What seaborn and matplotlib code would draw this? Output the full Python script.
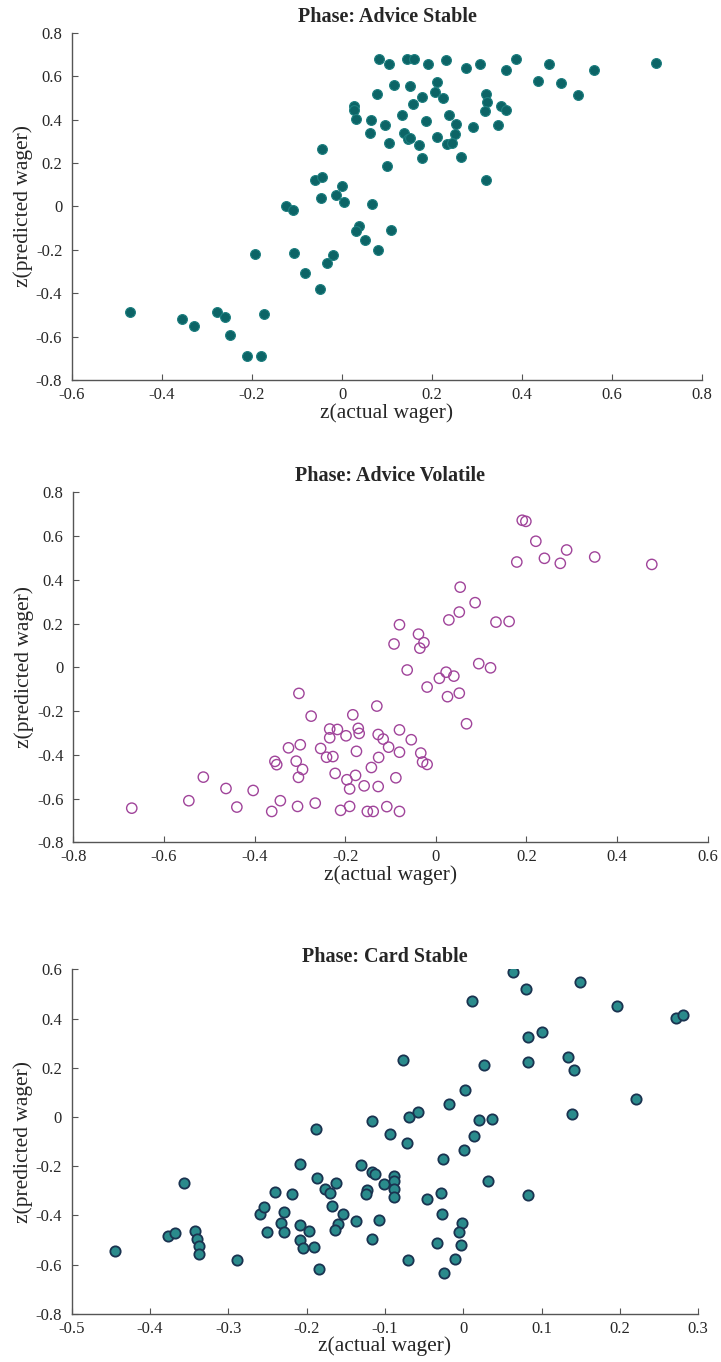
import numpy as np
import pandas as pd
import matplotlib
matplotlib.use("Agg")
import matplotlib.pyplot as plt
import seaborn as sns

# ---- Phase: Advice Stable ----
adv_stable_x = [-0.471, -0.356, -0.329, -0.278, -0.259, -0.250, -0.212, -0.179, -0.193, -0.173,
                -0.124, -0.109, -0.106, -0.083, -0.061, -0.044, -0.044, -0.047, -0.049, -0.033,
                -0.019, -0.013, -0.001, 0.004, 0.027, 0.026, 0.032, 0.038, 0.031, 0.050,
                0.062, 0.064, 0.067, 0.077, 0.082, 0.081, 0.105, 0.144, 0.159, 0.190,
                0.232, 0.275, 0.307, 0.365, 0.386, 0.460, 0.559, 0.698, 0.436, 0.487,
                0.525, 0.116, 0.151, 0.210, 0.206, 0.224, 0.178, 0.157, 0.319, 0.322,
                0.317, 0.353, 0.364, 0.095, 0.133, 0.187, 0.238, 0.253, 0.291, 0.347,
                0.138, 0.146, 0.152, 0.210, 0.252, 0.233, 0.244, 0.105, 0.171, 0.178,
                0.264, 0.101, 0.320, 0.108]
adv_stable_y = [-0.487, -0.517, -0.552, -0.489, -0.511, -0.591, -0.688, -0.689, -0.219, -0.496,
                0.001, -0.018, -0.213, -0.305, 0.120, 0.137, 0.264, 0.040, -0.379, -0.261,
                -0.223, 0.052, 0.094, 0.021, 0.460, 0.446, 0.402, -0.091, -0.112, -0.155,
                0.339, 0.399, 0.012, 0.517, 0.677, -0.200, 0.654, 0.677, 0.677, 0.654,
                0.674, 0.637, 0.654, 0.628, 0.677, 0.655, 0.629, 0.661, 0.577, 0.568,
                0.514, 0.559, 0.556, 0.571, 0.528, 0.497, 0.505, 0.470, 0.519, 0.480,
                0.440, 0.460, 0.445, 0.374, 0.423, 0.394, 0.423, 0.380, 0.364, 0.376,
                0.338, 0.310, 0.316, 0.321, 0.331, 0.288, 0.290, 0.290, 0.282, 0.222,
                0.229, 0.184, 0.123, -0.109]

# ---- Phase: Advice Volatile ----
adv_volatile_x = [-0.671, -0.545, -0.513, -0.463, -0.439, -0.403, -0.362, -0.343, -0.355, -0.351,
                  -0.325, -0.308, -0.302, -0.299, -0.294, -0.303, -0.305, -0.275, -0.266, -0.254,
                  -0.241, -0.227, -0.234, -0.234, -0.217, -0.222, -0.210, -0.198, -0.196, -0.190,
                  -0.190, -0.183, -0.177, -0.175, -0.171, -0.169, -0.158, -0.151, -0.138, -0.142,
                  -0.130, -0.127, -0.116, -0.126, -0.127, -0.108, -0.104, -0.088, -0.080, -0.080,
                  -0.080, -0.092, -0.080, -0.063, -0.054, -0.038, -0.035, -0.026, -0.033, -0.029,
                  -0.019, -0.019, 0.008, 0.023, 0.026, 0.029, 0.040, 0.052, 0.052, 0.054,
                  0.068, 0.087, 0.095, 0.121, 0.133, 0.162, 0.191, 0.199, 0.221, 0.289,
                  0.240, 0.275, 0.179, 0.351, 0.477]
adv_volatile_y = [-0.644, -0.610, -0.502, -0.554, -0.639, -0.563, -0.659, -0.610, -0.430, -0.445,
                  -0.368, -0.429, -0.119, -0.354, -0.467, -0.503, -0.636, -0.223, -0.621, -0.371,
                  -0.411, -0.408, -0.282, -0.322, -0.284, -0.485, -0.654, -0.313, -0.514, -0.556,
                  -0.636, -0.217, -0.494, -0.384, -0.279, -0.302, -0.542, -0.659, -0.659, -0.458,
                  -0.177, -0.307, -0.328, -0.412, -0.545, -0.637, -0.365, -0.505, -0.286, -0.388,
                  -0.659, 0.107, 0.195, -0.012, -0.331, 0.152, 0.088, 0.113, -0.392, -0.433,
                  -0.444, -0.090, -0.050, -0.022, -0.134, 0.217, -0.040, -0.118, 0.253, 0.367,
                  -0.258, 0.296, 0.017, -0.002, 0.207, 0.210, 0.673, 0.668, 0.577, 0.537,
                  0.499, 0.476, 0.482, 0.505, 0.471]

# ---- Phase: Card Stable ----
card_stable_x = [-0.445, -0.377, -0.368, -0.356, -0.342, -0.340, -0.337, -0.338, -0.289, -0.259,
                 -0.255, -0.251, -0.240, -0.229, -0.233, -0.229, -0.219, -0.208, -0.209, -0.209,
                 -0.204, -0.197, -0.188, -0.187, -0.190, -0.184, -0.176, -0.170, -0.162, -0.167,
                 -0.160, -0.164, -0.153, -0.137, -0.130, 0.064, 0.149, 0.080, 0.011, 0.196,
                 0.100, 0.083, -0.077, 0.027, 0.083, 0.134, 0.142, 0.002, 0.220, -0.018,
                 -0.117, -0.069, -0.058, 0.020, 0.037, 0.139, -0.094, -0.072, 0.014, 0.001,
                 -0.026, -0.117, -0.113, -0.101, -0.089, -0.089, -0.089, -0.089, -0.123, -0.124,
                 0.032, 0.083, -0.029, -0.046, -0.108, -0.116, -0.027, -0.001, -0.006, -0.003,
                 -0.033, -0.010, -0.025, -0.070, 0.272, 0.280]
card_stable_y = [-0.543, -0.485, -0.470, -0.268, -0.462, -0.495, -0.523, -0.557, -0.583, -0.393,
                 -0.365, -0.466, -0.306, -0.388, -0.430, -0.469, -0.314, -0.191, -0.440, -0.501,
                 -0.531, -0.462, -0.047, -0.248, -0.528, -0.617, -0.291, -0.308, -0.268, -0.360,
                 -0.434, -0.458, -0.394, -0.423, -0.196, 0.588, 0.548, 0.520, 0.470, 0.453,
                 0.344, 0.325, 0.230, 0.211, 0.222, 0.245, 0.191, 0.110, 0.072, 0.053,
                 -0.018, 0.001, 0.019, -0.011, -0.008, 0.013, -0.070, -0.104, -0.079, -0.136,
                 -0.171, -0.225, -0.233, -0.272, -0.240, -0.261, -0.294, -0.324, -0.297, -0.313,
                 -0.259, -0.318, -0.310, -0.332, -0.420, -0.495, -0.394, -0.430, -0.469, -0.520,
                 -0.514, -0.576, -0.634, -0.583, 0.402, 0.415]

sns.set_style("ticks")
plt.rcParams["font.family"] = ["Liberation Serif", "DejaVu Serif"]

fig = plt.figure(figsize=(7.21, 13.62), dpi=100)

panels = [
    dict(title="Phase: Advice Stable", x=adv_stable_x, y=adv_stable_y,
         rect=[0.0999, 0.7210, 0.8738, 0.2550],
         xlim=(-0.6, 0.8), xticks=np.arange(-0.6, 0.81, 0.2),
         ylim=(-0.8, 0.8), yticks=np.arange(-0.8, 0.81, 0.2),
         face="#0c6466", edge="#1e7f80", lw=0.8, s=50, tpad=8),
    dict(title="Phase: Advice Volatile", x=adv_volatile_x, y=adv_volatile_y,
         rect=[0.1017, 0.3816, 0.8796, 0.2568],
         xlim=(-0.8, 0.6), xticks=np.arange(-0.8, 0.61, 0.2),
         ylim=(-0.8, 0.8), yticks=np.arange(-0.8, 0.81, 0.2),
         face="none", edge="#a0449a", lw=1.0, s=55, tpad=8),
    dict(title="Phase: Card Stable", x=card_stable_x, y=card_stable_y,
         rect=[0.0994, 0.0354, 0.8690, 0.2529],
         xlim=(-0.5, 0.3), xticks=np.arange(-0.5, 0.31, 0.1),
         ylim=(-0.8, 0.6), yticks=np.arange(-0.8, 0.61, 0.2),
         face="#2a8b8c", edge="#1a3350", lw=1.3, s=55, tpad=5),
]


def fmt(v):
    v = round(v, 2)
    if abs(v) < 1e-9:
        return "0"
    return f"{v:g}"


for p in panels:
    ax = fig.add_axes(p["rect"])
    df = pd.DataFrame({"actual": p["x"], "predicted": p["y"]})
    sns.scatterplot(data=df, x="actual", y="predicted", ax=ax,
                    s=p["s"], facecolor=p["face"], edgecolor=p["edge"],
                    linewidth=p["lw"], legend=False)
    ax.set_xlim(*p["xlim"])
    ax.set_ylim(*p["ylim"])
    ax.set_xticks(p["xticks"])
    ax.set_yticks(p["yticks"])
    ax.set_xticklabels([fmt(t) for t in p["xticks"]])
    ax.set_yticklabels([fmt(t) for t in p["yticks"]])
    ax.tick_params(direction="in", length=4, width=0.8, color="#555555",
                   labelsize=12)
    ax.tick_params(axis="x", pad=5)
    ax.tick_params(axis="y", pad=7)
    for side in ("top", "right"):
        ax.spines[side].set_visible(False)
    for side in ("left", "bottom"):
        ax.spines[side].set_color("#555555")
        ax.spines[side].set_linewidth(1.0)
    ax.set_xlabel("z(actual wager)", fontsize=15.5, labelpad=0)
    ax.set_ylabel("z(predicted wager)", fontsize=15.5, labelpad=2)
    ax.set_title(p["title"], fontsize=14.5, fontweight="bold", pad=p["tpad"])

fig.savefig("out.png", dpi=100)
